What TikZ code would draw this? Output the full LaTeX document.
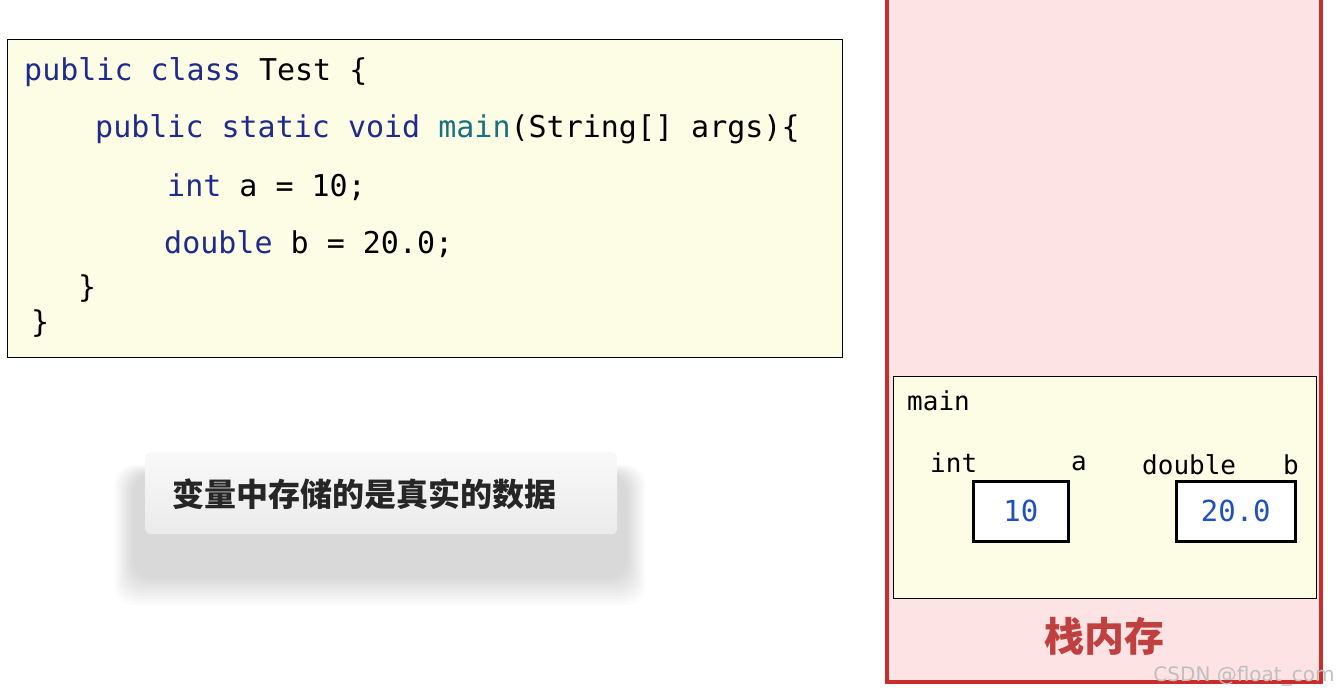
\documentclass[tikz,border=0pt]{standalone}
\usepackage{fontspec}
\setmainfont{DejaVu Sans}
\newfontfamily\codef{DejaVu Sans Mono}
\newfontfamily\cjk{Noto Sans CJK SC}
\definecolor{codebg}{HTML}{FDFDE6}
\definecolor{kw}{HTML}{1F2A8A}
\definecolor{fn}{HTML}{1A6F80}
\definecolor{stackbg}{HTML}{FDE3E3}
\definecolor{stackred}{HTML}{CC2B2B}
\definecolor{labred}{HTML}{C04040}
\definecolor{valblue}{HTML}{2050C0}
\begin{document}
\begin{tikzpicture}[x=1pt,y=-1pt,
  code/.style={anchor=west,inner sep=0pt,font=\codef\fontsize{30}{32}\selectfont},
  small/.style={anchor=west,inner sep=0pt,font=\codef\fontsize{26}{28}\selectfont},
  valt/.style={font=\codef\fontsize{29}{30}\selectfont,text=valblue},
  val/.style={draw=black,line width=2.5pt,fill=white,anchor=north west,inner sep=0pt,minimum height=60pt}]
\useasboundingbox (0,0) rectangle (1340,697);
% code box
\node[draw=black,line width=1.2pt,fill=codebg,minimum width=835pt,minimum height=318pt,anchor=north west,inner sep=0pt] (codebox) at (7,39) {};
\node[code] (l1) at (24,72) {\textcolor{kw}{public class} Test \{};
\node[code] (l2) at (95,129) {\textcolor{kw}{public static void} \textcolor{fn}{main}(String[] args)\{};
\node[code] (l3) at (167,187) {\textcolor{kw}{int} a = 10;};
\node[code] (l4) at (164,244) {\textcolor{kw}{double} b = 20.0;};
\node[code] (l5) at (78,289) {\}};
\node[code] (l6) at (31,324) {\}};
% callout shadow (soft)
\foreach \i in {0,...,9}{
  \fill[black,opacity=0.014,rounded corners=20pt] (115+2*\i,465+\i) rectangle (645-2*\i,605-3*\i);
}
\node[rounded corners=6pt,top color=gray!5,bottom color=gray!16,minimum width=472pt,minimum height=82pt,anchor=north west,inner sep=0pt] (callout) at (145,452) {};
\node[anchor=west,inner sep=0pt,font=\cjk\bfseries\fontsize{32}{34}\selectfont,text=black!85] (ctext) at (172,494) {变量中存储的是真实的数据};
% stack
\node[draw=stackred,line width=3.5pt,fill=stackbg,minimum width=434pt,minimum height=685pt,anchor=north west,inner sep=0pt] (stack) at (885,-5) {};
\node[draw=black,line width=1.2pt,fill=codebg,minimum width=423pt,minimum height=222pt,anchor=north west,inner sep=0pt] (frame) at (893,376) {};
\node[small] (mainlbl) at (907,401) {main};
\node[small] (intlbl) at (930,463) {int};
\node[small] (alb) at (1071,463) {a};
\node[small] (dbl) at (1142,465) {double};
\node[small] (blb) at (1283,465) {b};
\node[val,minimum width=95pt] (va) at (972,480) {};
\node[valt] at (va.center) {10};
\node[val,minimum width=119pt] (vb) at (1175,480) {};
\node[valt] at (vb.center) {20.0};
\node[font=\cjk\bfseries\fontsize{40}{44}\selectfont,text=labred] (stacklbl) at (1104,636) {栈内存};
\node[anchor=east,font=\fontsize{20}{22}\selectfont,text=black!25] (wm) at (1338,676) {CSDN @float\_com};
\end{tikzpicture}
\end{document}
